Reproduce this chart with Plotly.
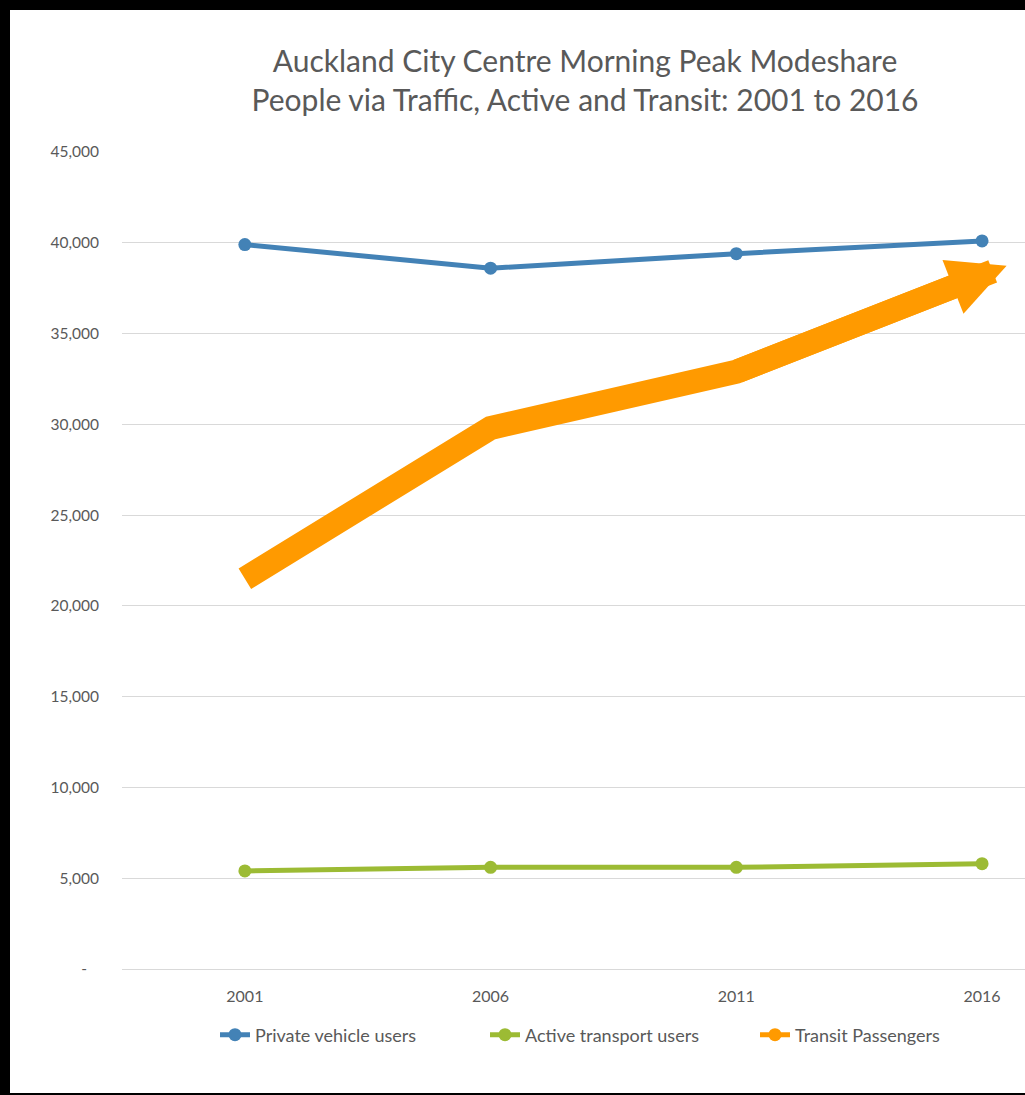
import plotly.graph_objects as go

years = [2001, 2006, 2011, 2016]
private_vehicle = [39900, 38600, 39400, 40100]
active_transport = [5400, 5600, 5600, 5800]
transit = [21500, 29800, 32900, 38200]

y_tickvals = [0, 5000, 10000, 15000, 20000, 25000, 30000, 35000, 40000, 45000]
y_ticktext = ["-\u00a0\u00a0\u00a0", "5,000", "10,000", "15,000", "20,000",
              "25,000", "30,000", "35,000", "40,000", "45,000"]

BLUE = "#4382b6"
GREEN = "#9cbb34"
ORANGE = "#ff9a00"
GRAY = "#595959"
FONT = "Lato"

W, H = 1025, 1095
L, R, T, B = 122, 0, 152, 126
pw, ph = W - L - R, H - T - B

fig = go.Figure()

fig.add_trace(go.Scatter(
    x=years, y=private_vehicle, name="Private vehicle users",
    mode="lines+markers", line=dict(color=BLUE, width=5),
    marker=dict(color=BLUE, size=13)))
fig.add_trace(go.Scatter(
    x=years, y=active_transport, name="Active transport users",
    mode="lines+markers", line=dict(color=GREEN, width=5),
    marker=dict(color=GREEN, size=13)))
# legend entry for transit
fig.add_trace(go.Scatter(
    x=[None], y=[None], name="Transit Passengers",
    mode="lines+markers", line=dict(color=ORANGE, width=5),
    marker=dict(color=ORANGE, size=13)))
# thick hand-drawn style arrow for transit
fig.add_trace(go.Scatter(
    x=years, y=transit, name="Transit Passengers", showlegend=False,
    mode="lines", line=dict(color=ORANGE, width=24), hoverinfo="skip"))

# arrow head: extend last segment
ext = 0.1
tip_x = years[-1] + ext * (years[-1] - years[-2])
tip_y = transit[-1] + ext * (transit[-1] - transit[-2])
fig.add_annotation(
    x=tip_x, y=tip_y, ax=years[-2], ay=transit[-2],
    xref="x", yref="y", axref="x", ayref="y",
    text="", showarrow=True, arrowhead=2, arrowsize=0.48,
    arrowwidth=24, arrowcolor=ORANGE, standoff=0)

# white paper on black background
fig.add_shape(type="rect", xref="paper", yref="paper",
              x0=(10 - L) / pw, x1=(W + 5 - L) / pw,
              y0=-(1093 - (T + ph)) / ph, y1=1 + (T - 10) / ph,
              fillcolor="white", line=dict(width=0), layer="below")

fig.update_layout(
    width=W, height=H,
    margin=dict(l=L, r=R, t=T, b=B, pad=0),
    paper_bgcolor="black", plot_bgcolor="rgba(0,0,0,0)",
    font=dict(family=FONT, color=GRAY, size=15),
    title=dict(
        text="Auckland City Centre Morning Peak Modeshare<br>People via Traffic, Active and Transit: 2001 to 2016",
        x=585 / W, xref="container", xanchor="center",
        y=1 - 72 / H, yref="container", yanchor="top",
        font=dict(family=FONT, size=30, color=GRAY)),
    showlegend=True,
    legend=dict(orientation="h", x=(620 - L) / pw, xanchor="center",
                y=-(1035 - (T + ph)) / ph, yanchor="middle",
                font=dict(family=FONT, size=18, color=GRAY),
                entrywidth=225, entrywidthmode="pixels",
                bgcolor="rgba(0,0,0,0)"),
    xaxis=dict(range=[1998.5, 2016.874], tickvals=years,
               ticktext=[str(y) for y in years],
               showgrid=False, zeroline=False, showline=True,
               linecolor="#d9d9d9", linewidth=1,
               ticks="", ticklabelstandoff=13,
               tickfont=dict(family=FONT, size=16, color=GRAY),
               fixedrange=True),
    yaxis=dict(range=[0, 45000], tickvals=y_tickvals, ticktext=y_ticktext,
               showgrid=True, gridcolor="#d9d9d9", gridwidth=1,
               zeroline=False, showline=False, ticks="",
               ticklabelstandoff=22,
               tickfont=dict(family=FONT, size=15.5, color=GRAY),
               fixedrange=True),
)

fig.write_html("out.html")
